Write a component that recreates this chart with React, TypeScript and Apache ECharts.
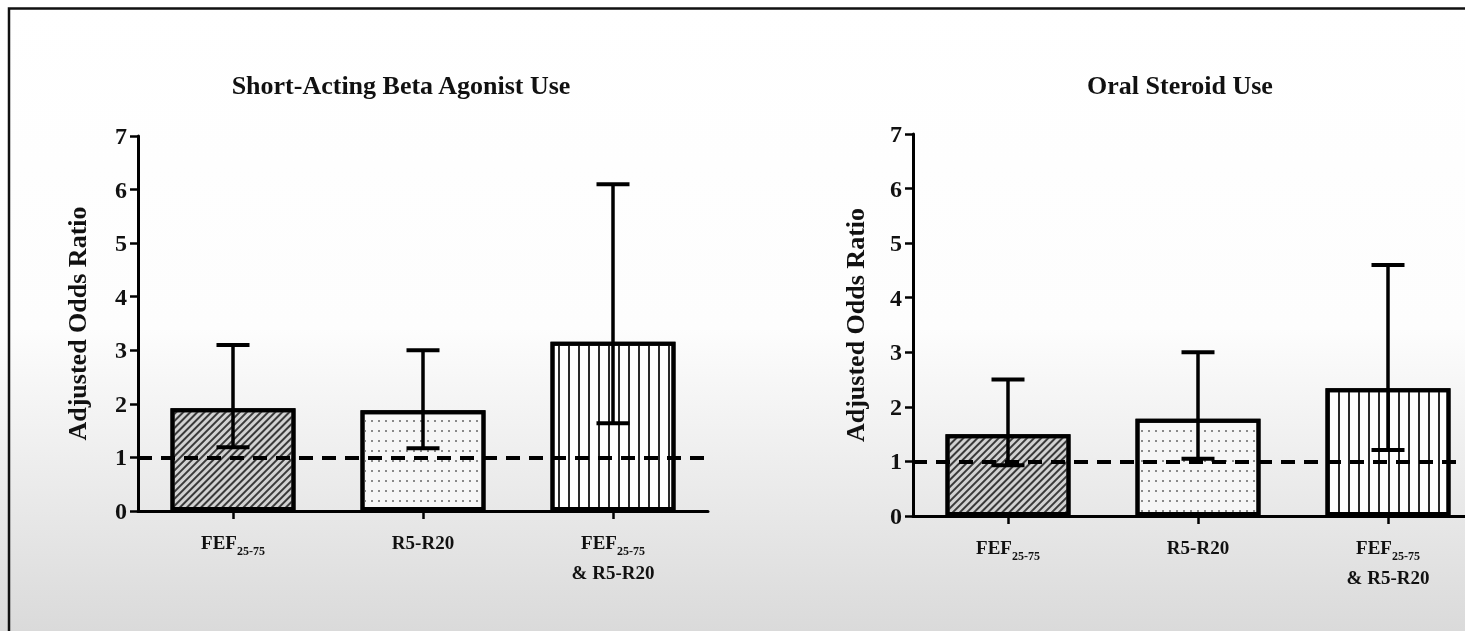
import React, { useEffect, useRef } from "react";
import * as echarts from "echarts";

const categories = ["FEF25-75", "R5-R20", "FEF25-75 & R5-R20"];
const sabaValues = [1.92, 1.88, 3.16];
const sabaLow = [1.19, 1.17, 1.64];
const sabaHigh = [3.1, 3.0, 6.1];
const osValues = [1.5, 1.78, 2.34];
const osLow = [0.93, 1.05, 1.21];
const osHigh = [2.5, 3.0, 4.6];
const yTicks = [0, 1, 2, 3, 4, 5, 6, 7];
const refValue = 1;
const titles = ["Short-Acting Beta Agonist Use", "Oral Steroid Use"];
const yName = "Adjusted Odds Ratio";

const SERIF = "'Liberation Serif', 'Times New Roman', serif";

const decals = [
  {
    symbol: "rect",
    color: "#3a3a3a",
    dashArrayX: [1, 0],
    dashArrayY: [2, 3],
    rotation: -Math.PI / 4,
  },
  {
    symbol: "rect",
    color: "#8a8a8a",
    dashArrayX: [1.5, 4.5],
    dashArrayY: [1.5, 7.5],
    rotation: 0,
  },
  {
    symbol: "rect",
    color: "#2a2a2a",
    dashArrayX: [1, 0],
    dashArrayY: [1.8, 7.6],
    rotation: Math.PI / 2,
  },
];
const fills = ["#d2d2d2", "#f6f6f6", "#ffffff"];

function labelFmt(v: string) {
  if (v === categories[0]) return "{m|FEF}{s|25-75}";
  if (v === categories[1]) return "{m|R5-R20}";
  return "{m|FEF}{s|25-75}\n{m|& R5-R20}";
}

export default function App() {
  const ref = useRef<HTMLDivElement>(null);
  useEffect(() => {
    if (!ref.current) return;
    const chart = echarts.init(ref.current, null, { renderer: "svg" });
    const grids = [
      { left: 138, top: 136, width: 570, height: 375, outerBoundsMode: "none", containLabel: false },
      { left: 913, top: 134, width: 570, height: 382, outerBoundsMode: "none", containLabel: false },
    ];
    const nameGaps = [48, 45];
    const xAxes = grids.map((_, i) => ({
      type: "category",
      gridIndex: i,
      data: categories,
      axisLine: { show: true, lineStyle: { color: "#000", width: 3 } },
      axisTick: { show: true, alignWithLabel: true, length: 8, lineStyle: { color: "#000", width: 2.5 } },
      axisLabel: {
        margin: 16,
        formatter: labelFmt,
        color: "#111",
        interval: 0,
        rich: {
          m: { fontFamily: SERIF, fontWeight: "bold", fontSize: 19, lineHeight: 30, color: "#111" },
          s: { fontFamily: SERIF, fontWeight: "bold", fontSize: 12, lineHeight: 12, verticalAlign: "bottom", color: "#111" },
        },
      },
    }));
    const yAxes = grids.map((_, i) => ({
      type: "value",
      gridIndex: i,
      min: yTicks[0],
      max: yTicks[yTicks.length - 1],
      interval: 1,
      name: yName,
      nameLocation: "middle",
      nameGap: nameGaps[i],
      nameRotate: 90,
      nameTextStyle: { fontFamily: SERIF, fontWeight: "bold", fontSize: 26, color: "#111" },
      splitLine: { show: false },
      axisLine: { show: true, lineStyle: { color: "#000", width: 3 } },
      axisTick: { show: true, length: 8, lineStyle: { color: "#000", width: 2.5 } },
      axisLabel: { margin: 11, fontFamily: SERIF, fontWeight: "bold", fontSize: 24, color: "#111" },
    }));
    const sets = [
      { v: sabaValues, lo: sabaLow, hi: sabaHigh },
      { v: osValues, lo: osLow, hi: osHigh },
    ];
    const series: any[] = [];
    sets.forEach((s, i) => {
      series.push({
        type: "bar",
        xAxisIndex: i,
        yAxisIndex: i,
        barWidth: 125,
        data: s.v.map((val, j) => ({
          value: val,
          itemStyle: {
            color: fills[j],
            borderColor: "#000",
            borderWidth: 4,
            decal: decals[j],
          },
        })),
        markLine: {
          silent: true,
          symbol: "none",
          label: { show: false },
          z: 5,
          lineStyle: { color: "#000", width: 4, type: [14, 9] },
          data: [{ yAxis: refValue }],
        },
      });
      series.push({
        type: "custom",
        xAxisIndex: i,
        yAxisIndex: i,
        z: 6,
        data: s.v.map((_, j) => [j, s.lo[j], s.hi[j]]),
        renderItem: (params: any, api: any) => {
          const lo = api.coord([api.value(0), api.value(1)]);
          const hi = api.coord([api.value(0), api.value(2)]);
          const x = lo[0];
          const hw = 16.5;
          const st = { stroke: "#000", lineWidth: 3.5, fill: null };
          return {
            type: "group",
            children: [
              { type: "line", shape: { x1: x, y1: lo[1], x2: x, y2: hi[1] }, style: st },
              { type: "line", shape: { x1: x - hw, y1: hi[1], x2: x + hw, y2: hi[1] }, style: { ...st, lineWidth: 4 } },
              { type: "line", shape: { x1: x - hw, y1: lo[1], x2: x + hw, y2: lo[1] }, style: { ...st, lineWidth: 4 } },
            ],
          };
        },
      });
    });
    chart.setOption({
      animation: false,
      graphic: [
        {
          type: "rect",
          z: -10,
          shape: { x: 0, y: 0, width: 1465, height: 631 },
          style: {
            fill: new echarts.graphic.LinearGradient(0, 0, 0, 1, [
              { offset: 0, color: "#ffffff" },
              { offset: 0.52, color: "#fdfdfd" },
              { offset: 1, color: "#dadada" },
            ]),
          },
          silent: true,
        },
        {
          type: "polyline",
          z: 10,
          shape: { points: [[9, 640], [9, 8.5], [1470, 8.5]] },
          style: { stroke: "#111", lineWidth: 2.5, fill: null },
          silent: true,
        },
        {
          type: "text",
          z: 10,
          style: {
            text: titles[0],
            x: 401,
            y: 85,
            textAlign: "center",
            textVerticalAlign: "middle",
            font: `bold 26px ${SERIF}`,
            fill: "#111",
          },
        },
        {
          type: "text",
          z: 10,
          style: {
            text: titles[1],
            x: 1180,
            y: 85,
            textAlign: "center",
            textVerticalAlign: "middle",
            font: `bold 26px ${SERIF}`,
            fill: "#111",
          },
        },
      ],
      grid: grids,
      xAxis: xAxes,
      yAxis: yAxes,
      series,
    });
    return () => chart.dispose();
  }, []);
  return (
    <div
      ref={ref}
      style={{ position: "fixed", left: 0, top: 0, width: 1465, height: 631 }}
    />
  );
}
